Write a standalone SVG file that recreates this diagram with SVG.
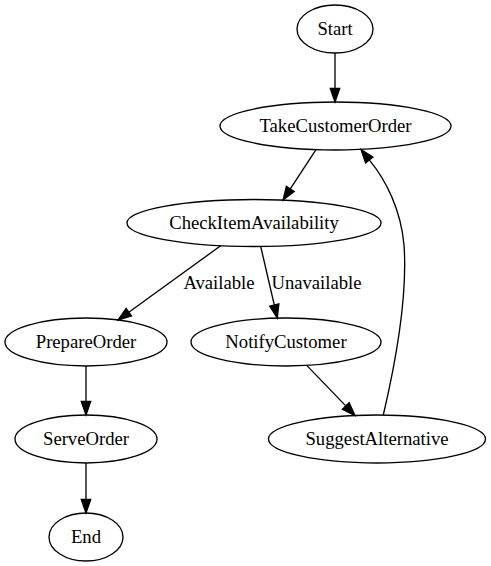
<svg xmlns="http://www.w3.org/2000/svg" width="491" height="566" viewBox="0 0 491 566">
<style>
.n ellipse{fill:none;stroke:#000;stroke-width:1.33}
text{font-family:"Liberation Serif","Times New Roman",serif;font-size:18.67px;fill:#000;text-anchor:middle}
.e path{fill:none;stroke:#000;stroke-width:1.33}
.e polygon{fill:#000;stroke:#000;stroke-width:1.33}
</style>
<rect width="491" height="566" fill="#fff"/>
<g id="connectors" class="e">
<g id="e-start-take"><path d="M335,53 L335,88.5"/><polygon points="335,102 330.3,88.5 339.7,88.5"/></g>
<g id="e-take-check"><path d="M316,149.7 L290.3,188.9"/><polygon points="283,200 294.2,191.5 286.4,186.3"/></g>
<g id="e-check-prepare"><path d="M221,245.5 L128.8,312.2"/><polygon points="118,320 131.5,316 126.1,308.4"/><text x="219" y="289">Available</text></g>
<g id="e-check-notify"><path d="M260.7,246.5 L274.3,305"/><polygon points="277.3,318 278.85,303.9 269.75,306.1"/><text x="316.5" y="289">Unavailable</text></g>
<g id="e-prepare-serve"><path d="M86,366 L86,401.5"/><polygon points="86,415 81.3,401.5 90.7,401.5"/></g>
<g id="e-serve-end"><path d="M86,463 L86,499.5"/><polygon points="86,513 81.3,499.5 90.7,499.5"/></g>
<g id="e-notify-suggest"><path d="M306.7,365.4 L345.8,405.9"/><polygon points="355,415.5 349.1,402.7 342.4,409.2"/></g>
<g id="e-suggest-take"><path d="M383.3,415 C395,365 408,300 404,245 C401,210 386,180 369.2,159.9"/><polygon points="361,149.5 372.9,157 365.6,162.8"/></g>
</g>
<g id="Start" class="n"><ellipse cx="335" cy="29" rx="38" ry="24"/><text x="335" y="34.6">Start</text></g>
<g id="TakeCustomerOrder" class="n"><ellipse cx="335.5" cy="126" rx="115.5" ry="24"/><text x="335.5" y="131.6">TakeCustomerOrder</text></g>
<g id="CheckItemAvailability" class="n"><ellipse cx="254" cy="223" rx="127" ry="23.5"/><text x="254" y="228.6">CheckItemAvailability</text></g>
<g id="PrepareOrder" class="n"><ellipse cx="86" cy="342" rx="81" ry="24"/><text x="86" y="347.6">PrepareOrder</text></g>
<g id="NotifyCustomer" class="n"><ellipse cx="286" cy="342" rx="95" ry="24"/><text x="286" y="347.6">NotifyCustomer</text></g>
<g id="ServeOrder" class="n"><ellipse cx="86" cy="439" rx="71" ry="24"/><text x="86" y="444.6">ServeOrder</text></g>
<g id="SuggestAlternative" class="n"><ellipse cx="377" cy="439" rx="108.5" ry="24"/><text x="377" y="444.6">SuggestAlternative</text></g>
<g id="End" class="n"><ellipse cx="86" cy="537" rx="37" ry="24"/><text x="86" y="542.6">End</text></g>
</svg>
